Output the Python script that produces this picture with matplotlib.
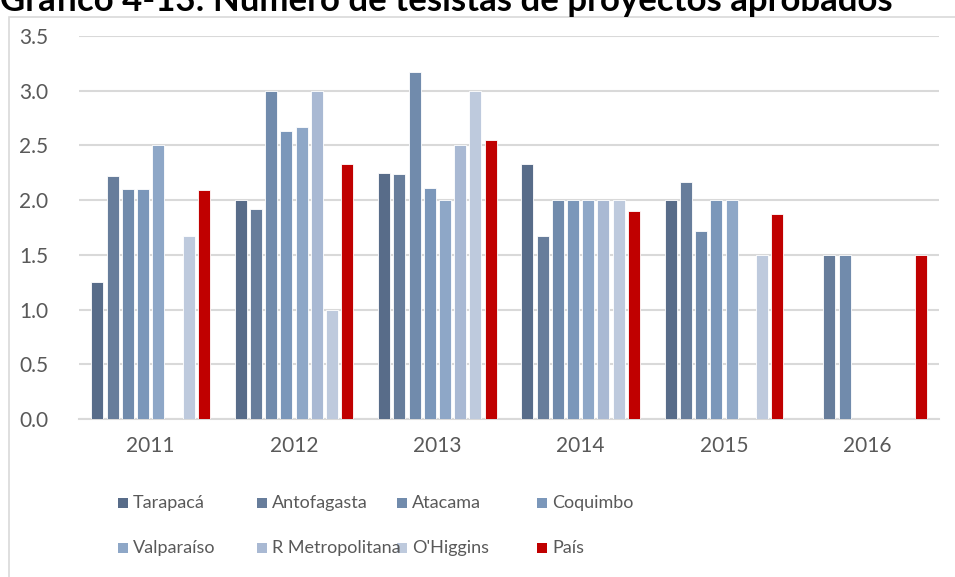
import numpy as np
import matplotlib
matplotlib.use("Agg")
import matplotlib.pyplot as plt
from matplotlib.patches import Rectangle

plt.rcParams['font.family'] = ['Lato', 'DejaVu Sans']

years = ['2011', '2012', '2013', '2014', '2015', '2016']
nan = np.nan

# valores por region (nan = sin dato)
tarapaca     = [1.25, 2.00, 2.25, 2.33, 2.00, nan]
antofagasta  = [2.22, 1.92, 2.24, 1.67, 2.17, 1.50]
atacama      = [2.10, 3.00, 3.17, 2.00, 1.72, 1.50]
coquimbo     = [2.10, 2.63, 2.11, 2.00, 2.00, nan]
valparaiso   = [2.50, 2.67, 2.00, 2.00, 2.00, nan]
metropolitana = [nan, 3.00, 2.50, 2.00, nan, nan]
ohiggins     = [1.67, 1.00, 3.00, 2.00, 1.50, nan]
pais         = [2.09, 2.33, 2.55, 1.90, 1.87, 1.50]

series = [
    ('Tarapacá', tarapaca, '#586C89'),
    ('Antofagasta', antofagasta, '#677D9B'),
    ('Atacama', atacama, '#718BAC'),
    ('Coquimbo', coquimbo, '#7B97BA'),
    ('Valparaíso', valparaiso, '#8EA7C7'),
    ('R Metropolitana', metropolitana, '#A9B9D3'),
    ("O'Higgins", ohiggins, '#BECADD'),
    ('País', pais, '#C00000'),
]

W, H = 955, 577
fig = plt.figure(figsize=(W / 100, H / 100), dpi=100)

# borde del area del grafico (estilo Excel)
fig.patches.append(Rectangle((9 / W, -0.1), 1.2, 1 - 17 / H + 0.1,
                             transform=fig.transFigure, fill=False,
                             edgecolor='#D9D9D9', linewidth=1.2))

# titulo (cortado arriba, como en la imagen original)
fig.text(0, 1 - 11 / H, 'Gráfico 4-13: Número de tesistas de proyectos aprobados',
         fontsize=25, fontweight='bold', color='black', va='baseline', ha='left')

ax = fig.add_axes([79 / W, 1 - 419 / H, (939 - 79) / W, (419 - 36) / H])

x = np.arange(len(years))
slot = 15.2 / 143.3
bw = 12.0 / 143.3
n = len(series)
for i, (name, vals, col) in enumerate(series):
    off = (i - (n - 1) / 2) * slot
    ax.bar(x + off, vals, width=bw, color=col, edgecolor='white', linewidth=0.6, zorder=3)

ax.set_xlim(-0.5, 5.5)
ax.set_ylim(0, 3.5)
ax.set_yticks(np.arange(0, 3.51, 0.5))
ax.set_yticklabels([f'{v:.1f}' for v in np.arange(0, 3.51, 0.5)])
ax.set_xticks(x)
ax.set_xticklabels(years)
ax.grid(axis='y', color='#D9D9D9', linewidth=1.5, zorder=0)
for s in ['top', 'right', 'left']:
    ax.spines[s].set_visible(False)
ax.spines['bottom'].set_color('#D9D9D9')
ax.spines['bottom'].set_linewidth(1.5)
ax.tick_params(axis='both', length=0, labelsize=15, colors='#595959')
ax.tick_params(axis='x', pad=12)
ax.tick_params(axis='y', pad=22)

# leyenda manual en 2 filas x 4 columnas
col_x = [118, 257, 397, 537]
row_y = [503, 548]
for i, (name, vals, col) in enumerate(series):
    cx = col_x[i % 4]
    cy = row_y[i // 4]
    fig.patches.append(Rectangle((cx / W, 1 - (cy + 5) / H), 10 / W, 10 / H,
                                 transform=fig.transFigure, facecolor=col,
                                 edgecolor='none'))
    fig.text((cx + 15) / W, 1 - cy / H, name, fontsize=13, color='#595959',
             va='center', ha='left')

fig.savefig('out.png', dpi=100)
